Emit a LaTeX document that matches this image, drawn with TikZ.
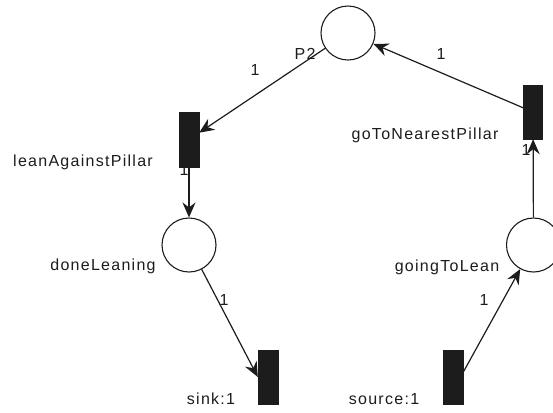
\documentclass[tikz,border=0pt]{standalone}
\usepackage{fontspec}
\setmainfont[LetterSpace=8]{Liberation Sans}
\usetikzlibrary{arrows.meta}
\definecolor{ink}{HTML}{1C1C1C}
\tikzset{
  place/.style={circle, draw=ink, line width=1.1bp, fill=white, minimum size=54bp, inner sep=0pt},
  trans/.style={rectangle, draw=ink, fill=ink, minimum width=20bp, minimum height=55bp, inner sep=0pt},
  lbl/.style={text=ink, inner sep=0pt, font=\fontsize{16bp}{18bp}\selectfont},
  arc/.style={draw=ink, line width=1.2bp, -{Stealth[length=15bp,width=13bp,inset=5bp]}},
}
\begin{document}
\begin{tikzpicture}[x=1bp,y=-1bp]
  \path[use as bounding box] (0,0) rectangle (553,412);

  % arc weights partly hidden behind the transitions
  \node[lbl] (wLean) at (184,170) {1};
  \node[lbl] (wGoto) at (526,150) {1};

  % places
  \node[place] (P2)    at (348,33)    {};
  \node[place] (done)  at (189,245)   {};
  \node[place] (going) at (533.5,245) {};

  % transitions
  \node[trans] (lean)   at (189,139.5) {};
  \node[trans, minimum width=19bp, minimum height=54bp] (goto) at (533,112) {};
  \node[trans, minimum height=54bp] (sink)   at (268,377) {};
  \node[trans, minimum height=54bp] (source) at (453,377) {};

  % place and transition names
  \node[lbl] (nP2)     at (305,54)  {P2};
  \node[lbl] (nLean)   at (83,162)  {leanAgainstPillar};
  \node[lbl] (nGoto)   at (425,135) {goToNearestPillar};
  \node[lbl] (nDone)   at (103,266) {doneLeaning};
  \node[lbl] (nGoing)  at (447,267) {goingToLean};
  \node[lbl] (nSink)   at (211,399) {sink:1};
  \node[lbl] (nSource) at (384,399) {source:1};

  % arcs
  \draw[arc] (P2) -- (lean);
  \draw[arc] (goto) -- (P2);
  \draw[arc] (lean) -- (done);
  \draw[arc] (going) -- (goto);
  \draw[arc] (done) -- (sink.west);
  \draw[arc] (source.25) -- (going);

  % arc weights
  \node[lbl] (w1) at (255,70)  {1};
  \node[lbl] (w2) at (441,54)  {1};
  \node[lbl] (w3) at (224,300) {1};
  \node[lbl] (w4) at (484,300) {1};
\end{tikzpicture}
\end{document}
